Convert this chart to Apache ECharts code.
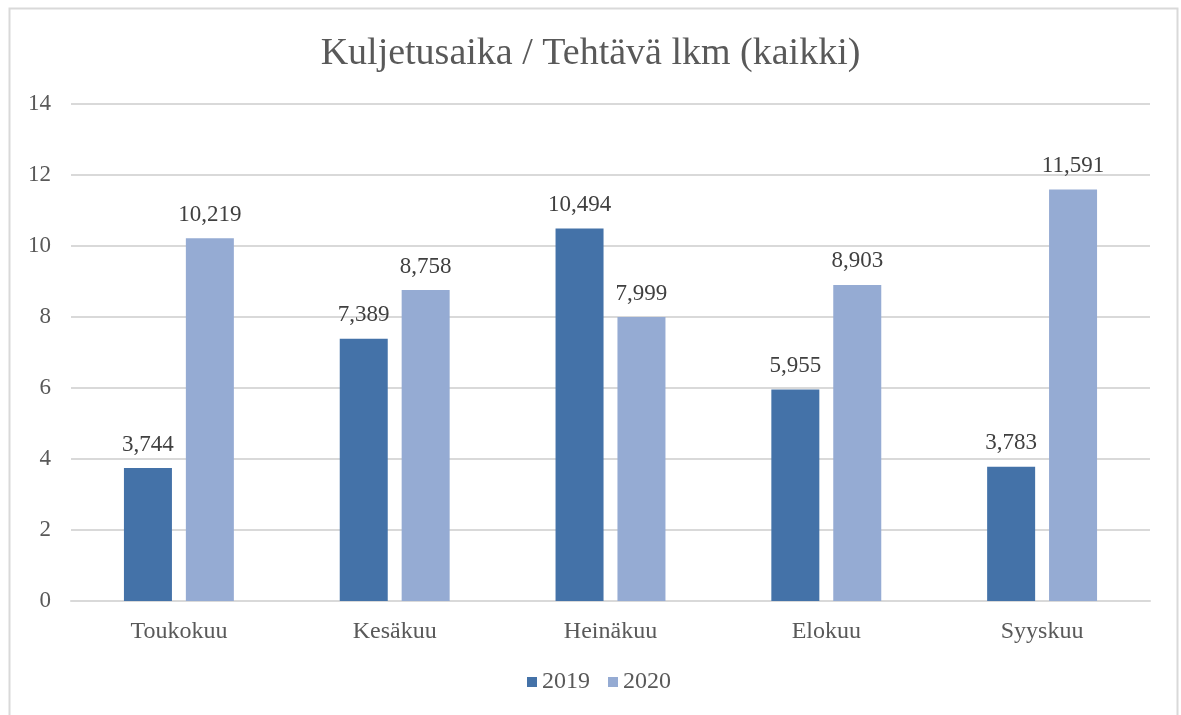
<!DOCTYPE html>
<html>
<head>
<meta charset="utf-8">
<script src="https://cdn.jsdelivr.net/npm/echarts@6/dist/echarts.min.js"></script>
<style>
  html, body { margin: 0; padding: 0; background: #fff; }
  #chart { width: 1181px; height: 715px; }
</style>
</head>
<body>
<div id="chart"></div>
<script>
  // kuukaudet ja arvot luettu kuvasta
  var months = ['Toukokuu', 'Kesäkuu', 'Heinäkuu', 'Elokuu', 'Syyskuu'];
  var values2019 = [3.744, 7.389, 10.494, 5.955, 3.783];
  var values2020 = [10.219, 8.758, 7.999, 8.903, 11.591];
  var yTicks = [0, 2, 4, 6, 8, 10, 12, 14];

  var font = '"Liberation Serif", "Times New Roman", serif';
  var textColor = '#595959';

  function fmt(p) {
    return p.value.toFixed(3).replace('.', ',');
  }

  var chart = echarts.init(document.getElementById('chart'));
  chart.setOption({
    animation: false,
    backgroundColor: '#fff',
    textStyle: { fontFamily: font, color: textColor },
    graphic: [{
      type: 'rect',
      shape: { x: 9.5, y: 8.5, width: 1168, height: 740 },
      style: { fill: 'none', stroke: '#d9d9d9', lineWidth: 2 },
      silent: true
    }],
    title: {
      text: 'Kuljetusaika / Tehtävä lkm (kaikki)',
      left: 'center',
      top: 30,
      textStyle: { fontFamily: font, fontWeight: 'normal', fontSize: 38, color: textColor }
    },
    legend: {
      bottom: 16,
      left: 522,
      itemWidth: 10,
      itemHeight: 10,
      itemGap: 18,
      icon: 'rect',
      textStyle: { fontFamily: font, fontSize: 24, color: textColor },
      data: ['2019', '2020']
    },
    grid: { left: 71, right: 31, top: 104, bottom: 114, containLabel: false },
    xAxis: {
      type: 'category',
      data: months,
      axisLine: { lineStyle: { color: '#d9d9d9', width: 2 } },
      axisTick: { show: false },
      axisLabel: { fontFamily: font, fontSize: 24, color: textColor, margin: 19 }
    },
    yAxis: {
      type: 'value',
      min: yTicks[0],
      max: yTicks[yTicks.length - 1],
      interval: 2,
      axisLine: { show: false },
      axisTick: { show: false },
      splitLine: { lineStyle: { color: '#d9d9d9', width: 2 } },
      axisLabel: { fontFamily: font, fontSize: 23, color: textColor, margin: 20 }
    },
    series: [{
      name: '2019',
      type: 'bar',
      data: values2019,
      barWidth: 48,
      barGap: '29%',
      itemStyle: { color: '#4472a8' },
      label: { show: true, position: 'top', distance: 12, formatter: fmt, fontFamily: font, fontSize: 23, color: '#404040' }
    }, {
      name: '2020',
      type: 'bar',
      data: values2020,
      barWidth: 48,
      itemStyle: { color: '#95abd3' },
      label: { show: true, position: 'top', distance: 12, formatter: fmt, fontFamily: font, fontSize: 23, color: '#404040' }
    }]
  });
</script>
</body>
</html>
